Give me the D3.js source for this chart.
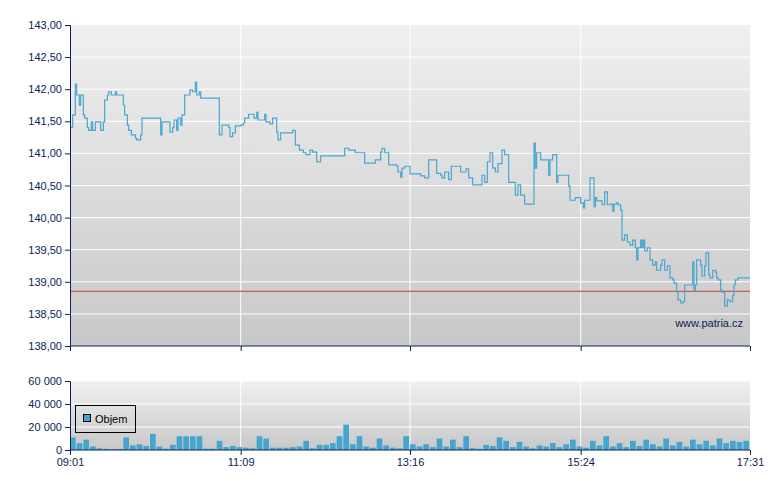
<!DOCTYPE html>
<html><head><meta charset="utf-8">
<script src="https://cdn.jsdelivr.net/npm/d3@7"></script>
<style>body{margin:0;background:#fff}text{font-family:"Liberation Sans",Arial,sans-serif}</style>
</head><body><svg id="c" width="780" height="490"></svg>
<script>
// minutes after 09:01
const priceMinutes=[0,2,4,5,7,8,10,11,13,14,16,17,19,22,23,25,26,28,29,31,34,35,38,40,41,43,44,46,49,50,51,53,54,66,68,69,74,75,77,78,80,81,83,84,86,89,90,92,94,95,97,98,110,112,114,119,120,122,124,128,130,131,134,137,138,140,141,143,146,147,149,150,152,153,155,156,158,166,167,169,170,172,175,177,180,182,185,188,203,206,209,214,220,221,227,229,233,234,236,239,245,246,248,249,251,255,263,266,269,272,275,278,279,281,284,286,289,293,296,297,299,302,306,309,311,313,315,317,319,321,324,326,329,332,334,336,338,341,347,348,349,350,353,356,359,360,362,365,366,371,374,375,379,383,385,386,390,392,393,394,395,398,399,401,403,405,407,408,410,411,413,414,416,418,420,422,424,425,426,428,429,430,431,433,435,437,439,440,443,444,446,448,450,452,453,455,456,458,460,461,465,467,468,469,470,473,474,476,477,479,480,482,484,485,486,488,489,491,493,495,497,498,499,501,510];
const priceValues=[141.41,141.60,142.08,141.91,141.75,141.91,141.60,141.55,141.40,141.36,141.49,141.36,141.49,141.49,141.36,141.49,141.83,141.91,141.96,141.91,141.96,141.91,141.91,141.75,141.60,141.44,141.36,141.29,141.24,141.21,141.21,141.29,141.55,141.55,141.29,141.49,141.49,141.33,141.40,141.52,141.36,141.55,141.44,141.60,141.91,141.91,141.99,141.96,142.11,141.91,141.96,141.86,141.86,141.29,141.44,141.40,141.26,141.32,141.43,141.44,141.47,141.55,141.61,141.61,141.55,141.64,141.52,141.52,141.61,141.49,141.49,141.46,141.55,141.55,141.33,141.21,141.32,141.32,141.36,141.13,141.13,141.05,141.01,140.98,141.05,141.02,140.87,140.96,140.96,141.08,141.05,141.01,141.01,140.85,140.85,140.90,141.02,141.08,141.01,140.82,140.80,140.71,140.63,140.77,140.80,140.68,140.65,140.62,140.90,140.90,140.69,140.66,140.62,140.71,140.59,140.80,140.80,140.71,140.71,140.76,140.62,140.51,140.51,140.66,140.55,140.87,141.01,140.77,140.71,140.84,141.05,140.98,140.55,140.55,140.35,140.51,140.35,140.21,140.21,141.16,140.77,141.01,140.90,140.90,140.66,140.90,140.98,140.55,140.66,140.66,140.49,140.27,140.31,140.23,140.15,140.27,140.62,140.62,140.17,140.31,140.26,140.26,140.20,140.40,140.20,140.21,140.10,140.21,140.23,140.20,140.12,139.65,139.73,139.62,139.57,139.65,139.53,139.34,139.53,139.65,139.53,139.65,139.48,139.53,139.34,139.26,139.31,139.18,139.26,139.34,139.18,139.25,139.06,139.03,138.98,138.84,138.72,138.67,138.69,138.95,138.95,139.31,138.87,138.95,139.34,139.26,139.09,139.25,139.45,139.11,139.06,139.18,139.15,139.06,139.03,138.87,138.84,138.62,138.72,138.69,138.79,138.95,139.03,139.06,139.06];
const referencePrice=138.85;
// volume per 5-minute bucket
const volumeValues=[11000,6000,9000,3000,1500,1000,600,900,11000,4000,5000,3500,14000,3000,1200,4500,12000,12000,12000,12000,1200,1200,8000,2500,3500,2500,2000,1500,12000,10000,2000,2000,2000,2500,3000,8000,1500,4500,4500,6000,12000,22000,5000,12000,3000,2000,10000,4000,2000,1500,12000,5000,3000,5000,2500,10000,3000,9000,2500,12000,1500,1000,4500,3500,11000,8000,2500,7000,3000,1500,4000,3000,6000,2500,5000,9000,3000,2000,8000,4000,12000,3000,6000,2500,8000,3500,9000,5000,3000,10000,4000,7000,3000,9000,5000,8000,4000,10000,6000,8000,7000,8000];
const yTicks=[138,138.5,139,139.5,140,140.5,141,141.5,142,142.5,143];
const volTicks=[0,20000,40000,60000];
const xTickMinutes=[0,128,255,383,510];
const xTickLabels=["09:01","11:09","13:16","15:24","17:31"];

const svg=d3.select("#c");
const L=70,R=750,T=25,B=346,VT=381,VB=450;
const navy="#0b2356";
const x=d3.scaleLinear().domain([0,510]).range([L,R]);
const y=d3.scaleLinear().domain([138,143]).range([B,T]);
const yv=d3.scaleLinear().domain([0,60000]).range([VB,VT]);
const defs=svg.append("defs");
const g1=defs.append("linearGradient").attr("id","bg").attr("x1",0).attr("y1",0).attr("x2",0).attr("y2",1);
g1.append("stop").attr("offset",0).attr("stop-color","#f0f0f0");
g1.append("stop").attr("offset",1).attr("stop-color","#c8c8c8");
svg.append("rect").attr("x",L).attr("y",T).attr("width",R-L).attr("height",B-T).attr("fill","url(#bg)");
svg.append("rect").attr("x",L).attr("y",VT).attr("width",R-L).attr("height",VB-VT).attr("fill","url(#bg)");
// grids
svg.append("g").selectAll("line").data(yTicks.slice(1,-1)).join("line")
 .attr("x1",L).attr("x2",R).attr("y1",d=>y(d)).attr("y2",d=>y(d)).attr("stroke","#fff");
svg.append("g").selectAll("line").data(xTickMinutes.slice(1,-1)).join("line")
 .attr("x1",d=>x(d)).attr("x2",d=>x(d)).attr("y1",T).attr("y2",B).attr("stroke","#fff");
svg.append("g").selectAll("line").data(volTicks.slice(1)).join("line")
 .attr("x1",L).attr("x2",R).attr("y1",d=>yv(d)).attr("y2",d=>yv(d)).attr("stroke","#fff");
svg.append("g").selectAll("line").data(xTickMinutes.slice(1,-1)).join("line")
 .attr("x1",d=>x(d)).attr("x2",d=>x(d)).attr("y1",VT).attr("y2",VB).attr("stroke","#fff");
// reference line
svg.append("line").attr("x1",L).attr("x2",R).attr("y1",y(referencePrice)).attr("y2",y(referencePrice)).attr("stroke","#c85a5a").attr("stroke-width",1.2);
// price line
const pts=priceMinutes.map((m,i)=>[m,priceValues[i]]);
svg.append("path").datum(pts).attr("fill","none").attr("stroke","#4aa6d2").attr("stroke-width",1.2)
 .attr("d",d3.line().x(d=>x(d[0])).y(d=>y(d[1])).curve(d3.curveStepAfter));
// volume bars
const bw=(x(5)-x(0));
svg.append("g").selectAll("rect").data(volumeValues).join("rect")
 .attr("x",(d,i)=>x(i*5)).attr("width",bw-1).attr("y",d=>yv(d)).attr("height",d=>VB-yv(d)).attr("fill","#45a5cf");
// axes
const fmt=d=>d.toFixed(2).replace(".",",");
const ya=svg.append("g").attr("transform",`translate(${L},0)`).call(d3.axisLeft(y).tickValues(yTicks).tickFormat(fmt).tickSize(5));
const va=svg.append("g").attr("transform",`translate(${L},0)`).call(d3.axisLeft(yv).tickValues(volTicks).tickFormat(d=>d3.format(",")(d).replace(/,/g," ")).tickSize(5));
const xa=svg.append("g").attr("transform",`translate(0,${VB})`).call(d3.axisBottom(x).tickValues(xTickMinutes).tickFormat((d,i)=>xTickLabels[i]).tickSize(5));
const xa2=svg.append("g").attr("transform",`translate(0,${B})`).call(d3.axisBottom(x).tickValues(xTickMinutes).tickFormat("").tickSize(5));
[ya,va,xa,xa2].forEach(a=>{a.selectAll("path,line").attr("stroke",navy);a.selectAll("text").attr("fill",navy).style("font-size","11px").style("font-family","Liberation Sans, Arial, sans-serif");});
xa.select(".domain").attr("d",`M${L},0H${R}`);
xa2.select(".domain").attr("d",`M${L},0H${R}`);
// watermark
svg.append("text").attr("x",743).attr("y",327).attr("text-anchor","end").attr("fill",navy).style("font-size","11px").text("www.patria.cz");
// legend
svg.append("rect").attr("x",75.5).attr("y",405.5).attr("width",60).attr("height",27).attr("fill","none").attr("stroke","#000");
svg.append("rect").attr("x",83.5).attr("y",414.5).attr("width",7).attr("height",7).attr("fill","#45a5cf").attr("stroke","#000");
svg.append("text").attr("x",95).attr("y",423).attr("fill","#000").style("font-size","11px").text("Objem");
</script></body></html>
